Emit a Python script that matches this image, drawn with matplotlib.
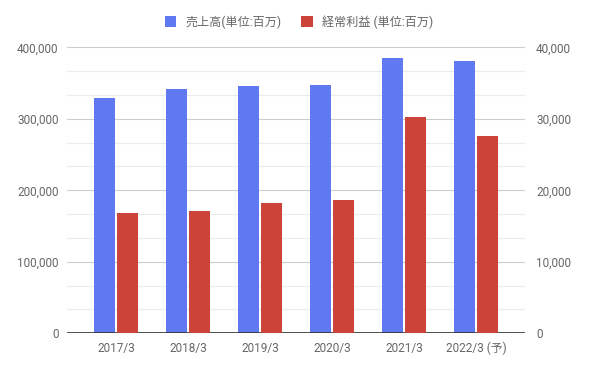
import numpy as np
import matplotlib.pyplot as plt
from matplotlib.ticker import FuncFormatter, MultipleLocator

plt.rcParams['font.family'] = ['Roboto', 'Noto Sans CJK JP', 'DejaVu Sans']

years = ["2017/3", "2018/3", "2019/3", "2020/3", "2021/3", "2022/3 (予)"]
sales = [328700, 341300, 345900, 347300, 385000, 380800]
profit = [16830, 17100, 18220, 18640, 30250, 27600]
sales_label = "売上高(単位:百万)"
profit_label = "経常利益 (単位:百万)"

BLUE = "#6079f0"
RED = "#cc4439"
TXT = "#666666"

fig = plt.figure(figsize=(5.98, 3.68), dpi=100)
ax = fig.add_axes([67 / 598, (368 - 333.3) / 368, (525 - 67) / 598, (333.3 - 47.3) / 368])
ax2 = ax.twinx()

x = np.arange(len(years))
w = 0.29
ax.bar(x - w / 2 - 0.015, sales, w, color=BLUE, label=sales_label, zorder=3)
ax2.bar(x + w / 2 + 0.015, profit, w, color=RED, label=profit_label, zorder=3)

ax.set_ylim(0, 400000)
ax2.set_ylim(0, 40000)
ax.set_xlim(-0.68, 5.68)

ax.yaxis.set_major_locator(MultipleLocator(100000))
ax.yaxis.set_minor_locator(MultipleLocator(100000 / 3))
ax2.yaxis.set_major_locator(MultipleLocator(10000))
ax.yaxis.set_major_formatter(FuncFormatter(lambda v, p: f"{int(v):,}"))
ax2.yaxis.set_major_formatter(FuncFormatter(lambda v, p: f"{int(v):,}"))

ax.grid(axis="y", which="major", color="#cccccc", lw=0.8, zorder=0)
ax.grid(axis="y", which="minor", color="#ebebeb", lw=0.8, zorder=0)
ax.set_axisbelow(True)

for a in (ax, ax2):
    for s in a.spines.values():
        s.set_visible(False)
    a.tick_params(length=0, labelsize=8.5, labelcolor=TXT, which="both")
ax.tick_params(axis="y", pad=6)
ax2.tick_params(axis="y", pad=8)
ax.axhline(0, color="#333333", lw=1.2, zorder=4)

ax.set_xticks(x)
ax.set_xticklabels(years)
ax.tick_params(axis="x", pad=6)

h1, l1 = ax.get_legend_handles_labels()
h2, l2 = ax2.get_legend_handles_labels()
fig.legend(h1 + h2, l1 + l2, loc="center", bbox_to_anchor=(0.5, 1 - 22 / 368),
           ncol=2, frameon=False, fontsize=8.7, labelcolor=TXT,
           handlelength=0.95, handleheight=1.0, handletextpad=0.8, columnspacing=1.6)

fig.savefig("out.png", dpi=100)
